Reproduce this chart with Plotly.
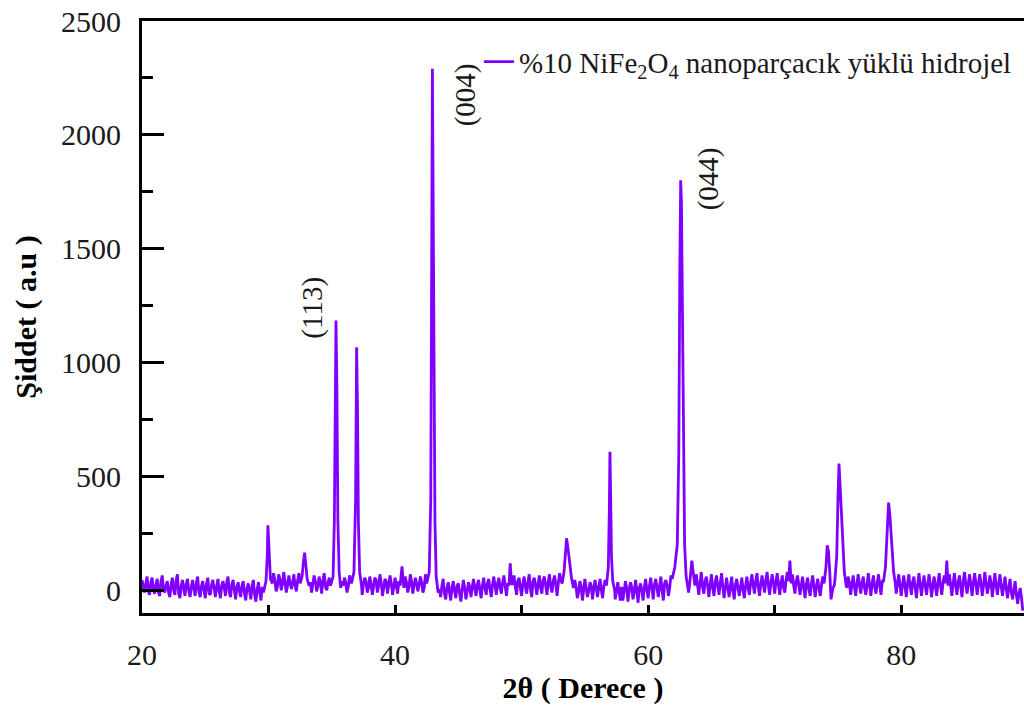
import numpy as np
import plotly.graph_objects as go

# ---- baseline scan ----
# whole-step samples: 20.0, 20.2, ..., 89.6
scan_start, scan_step = 20.0, 0.2
baseline_intensity = [
    45, -10, 60, -20, 55, -15, 50, -25, 65, -10,   # 20
    40, -30, 55, -20, 70, -35, 45, -25, 50, -30,   # 22
    45, -25, 60, -30, 40, -35, 55, -20, 45, -30,   # 24
    50, -35, 40, -25, 60, -30, 45, -40, 35, -30,   # 26
    40, -45, 30, -40, 45, -50, 35, -45, -10, 40,   # 28
    220, 40, 75, -5, 70, 0, 80, -10, 65, 5,        # 30
    70, -5, 75, 0, 60, 10, 70, -10, 65, -5,        # 32
    60, -15, 75, 0, 55, -10, 40, -5, 60, -15,      # 34
    55, -10, 65, 0, 40, -5, 60, -20, 55, -10,      # 36
    60, -20, 55, -10, 70, -25, 50, -15, 65, -20,   # 38
    55, -15, 80, -20, 60, -10, 70, -15, 55, -5,    # 40
    60, -10, 70, -5, 60, 0, 50, -30, -30, 50,      # 42
    -40, 35, -45, 40, -35, 30, -50, 45, -40, 35,   # 44
    -30, 50, -25, 45, -35, 55, -20, 50, -30, 60,   # 46
    -20, 55, -15, 65, -25, 60, 30, 65, -20, 55,    # 48
    -25, 60, -15, 70, -30, 55, -20, 65, -15, 60,   # 50
    -20, 70, -10, 65, -25, 75, -20, 60, -30, 50,   # 52
    -40, 45, -35, 40, -45, 50, -30, 35, -40, 45,   # 54
    -30, 50, -35, 45, -25, 40, -20, -40, 35, -45,  # 56
    -45, 40, -50, 35, -40, 45, -55, 30, -45, 50,   # 58
    -35, 55, -40, 50, -30, 60, -45, 45, -25, 65,   # 60
    -15, 70, -10, 60, -5, 65, -10, 55, -20, 70,    # 62
    -20, 80, -15, 60, -30, 70, -25, 65, -20, 75,   # 64
    -35, 55, -30, 60, -40, 50, -25, 55, -35, 60,   # 66
    -20, 70, -15, 75, -25, 65, -10, 80, -20, 70,   # 68
    -15, 75, -20, 65, -10, 80, -25, 70, -15, 65,   # 70
    -20, 60, -35, 55, -25, 65, -30, 50, -25, 60,   # 72
    -15, 70, -20, 60, -10, 65, -25, 55, -20, 60,   # 74
    -20, 65, -25, 70, -15, 60, -20, 75, -25, 65,   # 76
    -15, 70, -20, 80, -10, 75, -20, 60, -15, 70,   # 78
    -25, 65, -30, 70, -20, 60, -35, 75, -25, 65,   # 80
    -20, 70, -30, 60, -25, 75, -20, 65, -15, 70,   # 82
    -25, 75, -20, 65, -30, 80, -15, 70, -25, 75,   # 84
    -20, 70, -25, 80, -15, 65, -30, 75, -20, 70,   # 86
    -25, 60, -35, 50, -40, 40, -60, 10, -90,       # 88
]
# half-step samples: 20.1, 20.3, ..., 89.5
half_start = 20.1
baseline_intensity_half = [
    10, 30, -5, 35, 0, 25, -10, 40, 5, 20,         # 20.1
    -10, 25, 0, 45, -15, 20, 5, 30, -5, 15,        # 22.1
    5, 35, -10, 20, 0, 30, -15, 25, 10, 15,        # 24.1
    -5, 20, 10, 35, -10, 25, 0, 15, -5, 20,        # 26.1
    -15, 10, -5, 20, -20, 5, -10, 15, 20, 90,      # 28.1
    80, 20, 45, 15, 50, 25, 40, 20, 35, 30,        # 30.1
    20, 45, 25, 40, 140, 30, 35, 25, 40, 20,       # 32.1
    30, 45, 15, 35, 25, 40, 600, 200, 30, 20,      # 34.1
    35, 15, 40, 20, 60, 700, 30, 25, 40, 10,       # 36.1
    30, 15, 45, 20, 35, 10, 40, 25, 30, 15,        # 38.1
    20, 40, 60, 25, 35, 15, 40, 20, 30, 25,        # 40.1
    35, 10, 40, 50, 1000, 200, 10, 5, 20, -15,     # 42.1
    10, -10, 15, -5, 20, -15, 5, 10, -5, 15,       # 44.1
    15, 5, 25, 0, 20, 10, 30, 5, 25, 20,           # 46.1
    30, 10, 35, 20, 30, 60, 25, 15, 40, 10,        # 48.1
    30, 15, 35, 5, 40, 20, 30, 10, 45, 20,         # 50.1
    35, 15, 40, 25, 30, 45, 150, 200, 80, 20,      # 52.1
    5, 15, -10, 20, 0, 10, -5, 20, 5, 10,          # 54.1
    15, 0, 20, 10, 5, 200, 250, 10, -5, 15,        # 56.1
    -5, 10, 0, 15, -10, 5, 10, -5, 15, 0,          # 58.1
    20, 5, 25, 10, 15, 0, 30, 20, 10, 35,          # 60.1
    40, 400, 1500, 700, 40, 20, 80, 50, 20, 35,    # 62.1
    30, 15, 40, 20, 25, 10, 35, 20, 30, 15,        # 64.1
    15, 5, 20, -5, 25, 10, 15, 0, 20, 10,          # 66.1
    35, 20, 40, 15, 30, 25, 45, 20, 35, 30,        # 68.1
    40, 20, 35, 10, 45, 80, 30, 20, 40, 25,        # 70.1
    20, 10, 25, 5, 30, 15, 20, 5, 25, 60,          # 72.1
    180, 40, 100, 20, 300, 40, 20, 30, 10, 35,     # 74.1
    25, 15, 30, 20, 35, 10, 25, 20, 30, 15,        # 76.1
    30, 20, 40, 15, 35, 120, 250, 150, 30, 20,     # 78.1
    25, 15, 30, 20, 35, 10, 25, 20, 30, 15,        # 80.1
    30, 20, 25, 15, 35, 20, 30, 10, 40, 25,        # 82.1
    30, 20, 35, 15, 40, 25, 30, 20, 35, 30,        # 84.1
    25, 30, 20, 35, 15, 30, 25, 20, 30, 15,        # 86.1
    20, 5, 15, -10, 0, -20, -15, -30,              # 88.1
]

# ---- diffraction peaks (2theta, intensity) ----
peak_30_0 = [(29.6, -10), (29.8, 40), (29.9, 150), (29.95, 285), (30.0, 220), (30.05, 120), (30.15, 50), (30.3, 30)]
peak_32_8 = [(32.5, 30), (32.65, 60), (32.75, 120), (32.85, 165), (32.95, 110), (33.05, 50), (33.2, 20)]
peak_35_3 = [(34.9, 20), (35.1, 60), (35.2, 300), (35.28, 900), (35.33, 1185), (35.4, 900), (35.48, 300), (35.58, 80), (35.7, 10), (35.85, 40)]
peak_37_0 = [(36.55, 30), (36.75, 80), (36.88, 400), (36.96, 1067), (37.03, 800), (37.1, 300), (37.2, 80), (37.35, 20)]
peak_40_6 = [(40.4, 20), (40.5, 80), (40.55, 105), (40.62, 50), (40.7, 10)]
peak_43_0 = [(42.5, 30), (42.7, 80), (42.82, 400), (42.9, 1750), (42.95, 2290), (43.0, 1800), (43.07, 900), (43.15, 300), (43.25, 60), (43.4, -10)]
peak_49_1 = [(49.0, 20), (49.1, 118), (49.2, 30)]
peak_53_6 = [(53.2, 30), (53.35, 80), (53.45, 170), (53.55, 228), (53.65, 190), (53.8, 120), (53.95, 50), (54.1, 10)]
peak_57_0 = [(56.7, 20), (56.85, 100), (56.93, 350), (56.98, 608), (57.04, 400), (57.1, 150), (57.2, 40), (57.35, 0)]
peak_62_6 = [(61.9, 50), (62.1, 100), (62.3, 200), (62.42, 600), (62.5, 1400), (62.57, 1800), (62.63, 1700), (62.7, 1200), (62.78, 600), (62.88, 200), (63.0, 60), (63.1, 10)]
peak_63_5 = [(63.3, 40), (63.45, 130), (63.6, 60)]
peak_71_2 = [(71.1, 40), (71.2, 130), (71.3, 30)]
peak_74_2 = [(73.9, 30), (74.05, 100), (74.15, 197), (74.25, 170), (74.35, 80), (74.45, -40), (74.6, 10)]
peak_75_1 = [(74.75, 40), (74.9, 150), (75.0, 400), (75.08, 556), (75.15, 480), (75.25, 372), (75.35, 250), (75.5, 80), (75.65, 20)]
peak_79_0 = [(78.6, 40), (78.75, 100), (78.9, 300), (79.0, 385), (79.1, 330), (79.25, 200), (79.4, 80), (79.55, 20)]
peak_83_6 = [(83.5, 30), (83.6, 130), (83.7, 20)]

peaks = [peak_30_0, peak_32_8, peak_35_3, peak_37_0, peak_40_6, peak_43_0, peak_49_1,
         peak_53_6, peak_57_0, peak_62_6, peak_63_5, peak_71_2, peak_74_2, peak_75_1,
         peak_79_0, peak_83_6]

# Miller index labels
hkl_labels = ["(113)", "(004)", "(044)"]
hkl_x = [33.45, 45.55, 64.75]
hkl_y = [1242, 2175, 1806]

series_name = "%10 NiFe<sub>2</sub>O<sub>4</sub> nanoparçacık yüklü hidrojel"

# ---- assemble scan: baseline points outside peak windows + peak points ----
scan_x = np.round(scan_start + scan_step * np.arange(len(baseline_intensity)), 2)
scan_x_half = np.round(half_start + scan_step * np.arange(len(baseline_intensity_half)), 2)
points = []
for bx, by in list(zip(scan_x, baseline_intensity)) + list(zip(scan_x_half, baseline_intensity_half)):
    if not any(p[0][0] <= bx <= p[-1][0] for p in peaks):
        points.append((float(bx), by))
for p in peaks:
    points.extend(p)
points.sort(key=lambda t: t[0])
two_theta = [p[0] for p in points]
intensity = [p[1] for p in points]

FONT = "Liberation Serif"
TXT = "#1a1a1a"
LINE_COLOR = "#8000ff"

fig = go.Figure()
fig.add_trace(go.Scatter(x=two_theta, y=intensity, mode="lines",
                         line=dict(color=LINE_COLOR, width=2.8),
                         name=series_name, showlegend=True))

for t, xx, yy in zip(hkl_labels, hkl_x, hkl_y):
    fig.add_annotation(x=xx, y=yy, text=t, textangle=-90, showarrow=False,
                       font=dict(family=FONT, size=29, color=TXT))

fig.update_layout(
    width=1024, height=711,
    margin=dict(l=142, r=0, t=21, b=98),
    plot_bgcolor="white", paper_bgcolor="white",
    font=dict(family=FONT, color=TXT),
    showlegend=True,
    legend=dict(x=0.382, y=0.931, xanchor="left", yanchor="middle",
                bgcolor="rgba(0,0,0,0)", font=dict(family=FONT, size=29, color=TXT),
                itemclick=False),
)
fig.update_xaxes(
    range=[20, 89.7], showgrid=False, zeroline=False,
    showline=True, linecolor="black", linewidth=3, mirror=True,
    ticks="inside", ticklen=8, tickwidth=3, tickcolor="black",
    dtick=20, tick0=20,
    minor=dict(dtick=10, tick0=20, ticks="inside", ticklen=8, tickwidth=3, tickcolor="black", showgrid=False),
    tickfont=dict(family=FONT, size=30, color=TXT),
    ticklabelstandoff=13,
    title=dict(text="<b>2θ ( Derece )</b>", font=dict(family=FONT, size=30, color="black"), standoff=6),
)
fig.update_yaxes(
    range=[-100, 2500], showgrid=False, zeroline=False,
    showline=True, linecolor="black", linewidth=3, mirror=False,
    ticks="inside", ticklen=22, tickwidth=3, tickcolor="black",
    dtick=500, tick0=0,
    minor=dict(dtick=250, tick0=0, ticks="inside", ticklen=11, tickwidth=3, tickcolor="black", showgrid=False),
    tickfont=dict(family=FONT, size=30, color=TXT),
    ticklabelstandoff=12,
    title=dict(text="<b>Şiddet ( a.u )</b>", font=dict(family=FONT, size=30, color="black"), standoff=16),
)

fig.write_html("out.html")
